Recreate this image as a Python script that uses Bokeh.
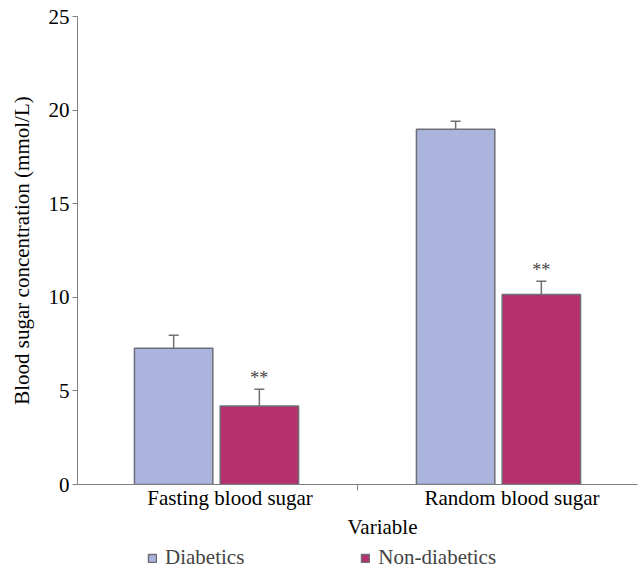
from bokeh.plotting import figure
from bokeh.layouts import column
from bokeh.models import ColumnDataSource, Range1d, Whisker, Legend, LegendItem, FixedTicker, Title
from bokeh.core.properties import value
from bokeh.embed import file_html
from bokeh.resources import INLINE

categories = ["Fasting blood sugar", "Random blood sugar"]
diabetics = [7.28, 18.98]
diabetics_err = [0.69, 0.43]
non_diabetics = [4.20, 10.15]
non_diabetics_err = [0.89, 0.71]
signif = ["**", "**"]
y_ticks = [0, 5, 10, 15, 20, 25]

FONT = "Liberation Serif"
C_DIA = "#AAB4DC"
C_NON = "#B5306C"
EDGE = "#6E6E78"

OFF_DIA = -0.2
OFF_NON = 0.104
BW = 0.278

idx = list(range(len(categories)))
src = ColumnDataSource(dict(
    x_dia=[i + OFF_DIA for i in idx],
    x_non=[i + OFF_NON for i in idx],
    dia=diabetics,
    dia_up=[v + e for v, e in zip(diabetics, diabetics_err)],
    non=non_diabetics,
    non_up=[v + e for v, e in zip(non_diabetics, non_diabetics_err)],
    sig=signif,
))

p = figure(frame_width=560, frame_height=468, x_range=Range1d(-0.541, 1.445),
           y_range=Range1d(0, 25), output_backend="svg", toolbar_location=None,
           min_border_left=77, min_border_top=16, min_border_right=2, min_border_bottom=0)
p.outline_line_color = None
p.grid.visible = False

r1 = p.vbar(x="x_dia", top="dia", width=BW, source=src,
            fill_color=C_DIA, line_color=EDGE, line_width=1.5)
r2 = p.vbar(x="x_non", top="non", width=BW, source=src,
            fill_color=C_NON, line_color=EDGE, line_width=1.5)

for xf, lo, hi in [("x_dia", "dia", "dia_up"), ("x_non", "non", "non_up")]:
    w = Whisker(base=xf, lower=lo, upper=hi, source=src,
                line_color="#707070", line_width=1.5, lower_head=None)
    w.upper_head.size = 10
    w.upper_head.line_color = "#707070"
    w.upper_head.line_width = 1.5
    p.add_layout(w)

p.text(x="x_non", y="non_up", text="sig", source=src,
       text_font=value(FONT), text_font_size="18px", text_color="#444444",
       text_align="center", text_baseline="bottom", y_offset=-1)

# y axis
ya = p.yaxis[0]
ya.ticker = FixedTicker(ticks=y_ticks)
ya.axis_label = "Blood sugar concentration (mmol/L)"
ya.axis_label_text_font = FONT
ya.axis_label_text_font_style = "normal"
ya.axis_label_text_font_size = "21px"
ya.axis_label_text_color = "black"
ya.axis_label_standoff = 12
ya.major_label_text_font = FONT
ya.major_label_text_font_size = "21px"
ya.major_label_text_color = "black"
ya.axis_line_color = "#808080"
ya.major_tick_line_color = "#808080"
ya.major_tick_out = 5
ya.major_tick_in = 0
ya.minor_tick_line_color = None
ya.major_label_standoff = 3

# x axis: category labels at group positions, small tick between groups
mid = (idx[0] + idx[1]) / 2 + (OFF_DIA + OFF_NON) / 2
xa = p.xaxis[0]
xa.ticker = FixedTicker(ticks=idx, minor_ticks=[mid])
xa.major_label_overrides = {i: c for i, c in zip(idx, categories)}
xa.major_label_text_font = FONT
xa.major_label_text_font_size = "21px"
xa.major_label_text_color = "black"
xa.axis_line_color = "#808080"
xa.major_tick_line_color = None
xa.minor_tick_line_color = "#808080"
xa.minor_tick_out = 6
xa.minor_tick_in = 0
xa.major_label_standoff = -5

p.add_layout(Title(text="Variable", align="left", offset=270, text_font=FONT,
                   text_font_size="21px", text_font_style="normal", text_color="black",
                   standoff=0), "below")

# legend strip under the chart
pl = figure(width=639, height=32, x_range=Range1d(0, 1), y_range=Range1d(100, 101),
            x_axis_type=None, y_axis_type=None,
            output_backend="svg", toolbar_location=None,
            min_border_left=0, min_border_right=0, min_border_top=0, min_border_bottom=0)
pl.grid.visible = False
pl.outline_line_color = None
l1 = pl.vbar(x="x_dia", top="dia", width=BW, source=src, fill_color=C_DIA, line_color=EDGE, line_width=1.5)
l2 = pl.vbar(x="x_non", top="non", width=BW, source=src, fill_color=C_NON, line_color=EDGE, line_width=1.5)
legend = Legend(items=[LegendItem(label="Diabetics", renderers=[l1]),
                       LegendItem(label="Non-diabetics", renderers=[l2])],
                orientation="horizontal", location=(70, 0),
                glyph_width=10, glyph_height=10, spacing=116,
                label_text_font=FONT, label_text_font_size="21px",
                label_standoff=8, padding=2, margin=0,
                border_line_color=None, background_fill_alpha=0)
pl.add_layout(legend, "center")

layout = column(p, pl, spacing=0)
open("out.html", "w").write(file_html(layout, INLINE))
